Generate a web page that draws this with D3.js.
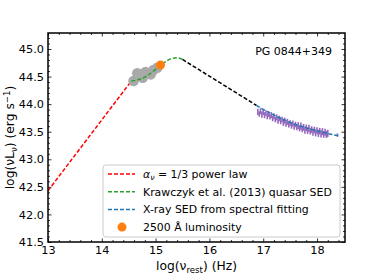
<!DOCTYPE html>
<html><head><meta charset="utf-8">
<script src="https://cdn.jsdelivr.net/npm/d3@7"></script>
<style>
body{margin:0;background:#fff}
text{font-family:"DejaVu Sans",sans-serif}
</style>
</head><body>
<svg id="chart" width="383" height="278"></svg>
<script>
// power law, quasar SED, bridge and X-ray model
var redX = [13.0, 14.55], redY = [42.43, 44.42];
var greenX = [14.55, 14.7, 14.85, 15.0, 15.1, 15.2, 15.3, 15.4, 15.5];
var greenY = [44.42, 44.45, 44.52, 44.63, 44.71, 44.78, 44.83, 44.84, 44.81];
var blackX = [15.5, 16.87], blackY = [44.81, 43.98];
var blueX = [16.87, 17.2, 17.5, 17.8, 18.1, 18.42];
var blueY = [43.98, 43.80, 43.67, 43.57, 43.49, 43.42];

// X-ray spectrum points with errors
var specX = [16.900, 16.925, 16.950, 16.975, 17.000, 17.025, 17.050, 17.075, 17.100, 17.125,
  17.150, 17.175, 17.200, 17.225, 17.250, 17.275, 17.300, 17.325, 17.350, 17.375,
  17.400, 17.425, 17.450, 17.475, 17.500, 17.525, 17.550, 17.575, 17.600, 17.625,
  17.650, 17.675, 17.700, 17.725, 17.750, 17.775, 17.800, 17.825, 17.850, 17.875,
  17.900, 17.925, 17.950, 17.975, 18.000, 18.025, 18.050, 18.075, 18.100, 18.125,
  18.150, 18.175, 18.200, 18.380];
var specY = [43.86, 43.82, 43.87, 43.81, 43.85, 43.80, 43.84, 43.78, 43.82, 43.77,
  43.80, 43.74, 43.78, 43.72, 43.76, 43.70, 43.74, 43.69, 43.72, 43.66,
  43.70, 43.64, 43.68, 43.63, 43.66, 43.61, 43.65, 43.59, 43.63, 43.58,
  43.61, 43.56, 43.60, 43.55, 43.58, 43.53, 43.57, 43.52, 43.56, 43.51,
  43.54, 43.49, 43.53, 43.48, 43.52, 43.47, 43.51, 43.46, 43.50, 43.45,
  43.49, 43.45, 43.47, 43.44];
var specErr = [0.055, 0.05, 0.055, 0.055, 0.05, 0.055, 0.05, 0.055, 0.055, 0.05,
  0.055, 0.05, 0.055, 0.05, 0.055, 0.055, 0.05, 0.055, 0.05, 0.055,
  0.055, 0.05, 0.055, 0.055, 0.05, 0.055, 0.055, 0.055, 0.05, 0.055,
  0.06, 0.055, 0.065, 0.06, 0.06, 0.065, 0.06, 0.06, 0.065, 0.06,
  0.06, 0.065, 0.06, 0.065, 0.06, 0.065, 0.06, 0.065, 0.065, 0.06,
  0.065, 0.065, 0.065, 0.03];

// optical photometry
var photX = [14.59, 14.66, 14.76, 14.81, 14.91, 14.96, 15.03];
var photY = [44.42, 44.56, 44.48, 44.58, 44.54, 44.62, 44.66];
var l2500X = [15.09], l2500Y = [44.71];

var xTicks = [13, 14, 15, 16, 17, 18];
var yTicks = [41.5, 42.0, 42.5, 43.0, 43.5, 44.0, 44.5, 45.0];
var legendLabels = ["power law", "Krawczyk et al. (2013) quasar SED",
  "X-ray SED from spectral fitting", "2500 \u00c5 luminosity"];

var svg = d3.select("#chart"),
    margin = {top: 33, right: 38, bottom: 36, left: 48},
    width = +svg.attr("width") - margin.left - margin.right,
    height = +svg.attr("height") - margin.top - margin.bottom,
    g = svg.append("g").attr("transform", "translate(" + margin.left + "," + margin.top + ")");

var x = d3.scaleLinear().domain([13, 18.52]).range([0, width]);
var y = d3.scaleLinear().domain([41.5, 45.29]).range([height, 0]);

var xMinor = d3.range(13, 18.52, 0.2).filter(function (v) { return Math.abs(v - Math.round(v)) > 0.01; });
var yMinor = d3.range(41.5, 45.29, 0.1).filter(function (v) { return Math.abs(v * 2 - Math.round(v * 2)) > 0.01; });

function axes(sel, maker, major, minor, labels) {
    sel.append("g").call(maker(major).tickSizeInner(-3.5).tickSizeOuter(0).tickPadding(4)
        .tickFormat(labels ? labels : ""));
    sel.append("g").call(maker(minor).tickSizeInner(-2).tickSizeOuter(0).tickFormat(""));
    sel.selectAll("path.domain").remove();
    sel.selectAll("line").attr("stroke", "#000").attr("stroke-width", 0.8);
    sel.selectAll("text").attr("font-size", 11.3).attr("fill", "#000").attr("font-family", "DejaVu Sans");
}

axes(g.append("g").attr("transform", "translate(0," + height + ")"),
    function (v) { return d3.axisBottom(x).tickValues(v); }, xTicks, xMinor, d3.format("d"));
axes(g.append("g"), function (v) { return d3.axisTop(x).tickValues(v); }, xTicks, xMinor, null);
axes(g.append("g"), function (v) { return d3.axisLeft(y).tickValues(v); }, yTicks, yMinor, d3.format(".1f"));
axes(g.append("g").attr("transform", "translate(" + width + ",0)"),
    function (v) { return d3.axisRight(y).tickValues(v); }, yTicks, yMinor, null);

var line = d3.line().x(function (d) { return x(d[0]); }).y(function (d) { return y(d[1]); });

function dashed(xs, ys, color, curve) {
    g.append("path")
        .datum(d3.zip(xs, ys))
        .attr("d", line.curve(curve || d3.curveLinear))
        .attr("fill", "none")
        .attr("stroke", color)
        .attr("stroke-width", 1.5)
        .attr("stroke-dasharray", "4,2");
}

// error bars
g.selectAll(".err")
    .data(d3.range(specX.length))
    .enter().append("line")
    .attr("x1", function (i) { return x(specX[i]); })
    .attr("x2", function (i) { return x(specX[i]); })
    .attr("y1", function (i) { return y(specY[i] - specErr[i]); })
    .attr("y2", function (i) { return y(specY[i] + specErr[i]); })
    .attr("stroke", "#9467bd")
    .attr("stroke-width", 1.6);

dashed(redX, redY, "#ff0000");
dashed(blackX, blackY, "#000000");
dashed(blueX, blueY, "#1f77b4", d3.curveMonotoneX);

g.selectAll(".phot")
    .data(d3.zip(photX, photY))
    .enter().append("circle")
    .attr("cx", function (d) { return x(d[0]); })
    .attr("cy", function (d) { return y(d[1]); })
    .attr("r", 5.3)
    .attr("fill", "#a9a9a9");

dashed(greenX, greenY, "#2ca02c", d3.curveMonotoneX);

g.selectAll(".l2500")
    .data(d3.zip(l2500X, l2500Y))
    .enter().append("circle")
    .attr("cx", function (d) { return x(d[0]); })
    .attr("cy", function (d) { return y(d[1]); })
    .attr("r", 4.5)
    .attr("fill", "#ff7f0e");

// frame
g.append("rect").attr("width", width).attr("height", height)
    .attr("fill", "none").attr("stroke", "#000").attr("stroke-width", 1.5);

g.append("text").attr("x", width - 13).attr("y", 22).attr("text-anchor", "end")
    .attr("font-size", 11).text("PG 0844+349");

// legend
var lg = g.append("g").attr("transform", "translate(55,132)");
lg.append("rect").attr("width", 237).attr("height", 72).attr("rx", 3)
    .attr("fill", "#fff").attr("fill-opacity", 0.8).attr("stroke", "#cccccc");
var colors = ["#ff0000", "#2ca02c", "#1f77b4"];
legendLabels.forEach(function (lab, i) {
    var cy = 9 + i * 17.7;
    if (i < 3) {
        lg.append("line").attr("x1", 5).attr("x2", 32).attr("y1", cy).attr("y2", cy)
            .attr("stroke", colors[i]).attr("stroke-width", 1.5).attr("stroke-dasharray", "4,2");
    } else {
        lg.append("circle").attr("cx", 19).attr("cy", cy).attr("r", 4.5).attr("fill", "#ff7f0e");
    }
    var t = lg.append("text").attr("x", 40).attr("y", cy + 3.9).attr("font-size", 10.9);
    if (i === 0) {
        t.append("tspan").attr("font-style", "italic").text("\u03b1");
        t.append("tspan").attr("font-style", "italic").attr("font-size", 7.8).attr("dy", 2).text("\u03bd");
        t.append("tspan").attr("dy", -2).text(" = 1/3 " + lab);
    } else {
        t.text(lab);
    }
});

// axis labels
var xl = svg.append("text").attr("x", margin.left + width / 2).attr("y", 270)
    .attr("text-anchor", "middle").attr("font-size", 12.3);
xl.append("tspan").text("log(\u03bd");
xl.append("tspan").attr("font-size", 8.6).attr("dy", 2.5).text("rest");
xl.append("tspan").attr("dy", -2.5).text(") (Hz)");

var yl = svg.append("text").attr("transform", "translate(14," + (margin.top + height / 2) + ") rotate(-90)")
    .attr("text-anchor", "middle").attr("font-size", 12.3);
yl.append("tspan").text("log(\u03bdL");
yl.append("tspan").attr("font-size", 8.6).attr("dy", 2.5).text("\u03bd");
yl.append("tspan").attr("dy", -2.5).text(") (erg s");
yl.append("tspan").attr("font-size", 8.6).attr("dy", -4.5).text("\u22121");
yl.append("tspan").attr("dy", 4.5).text(")");
</script>
</body></html>
